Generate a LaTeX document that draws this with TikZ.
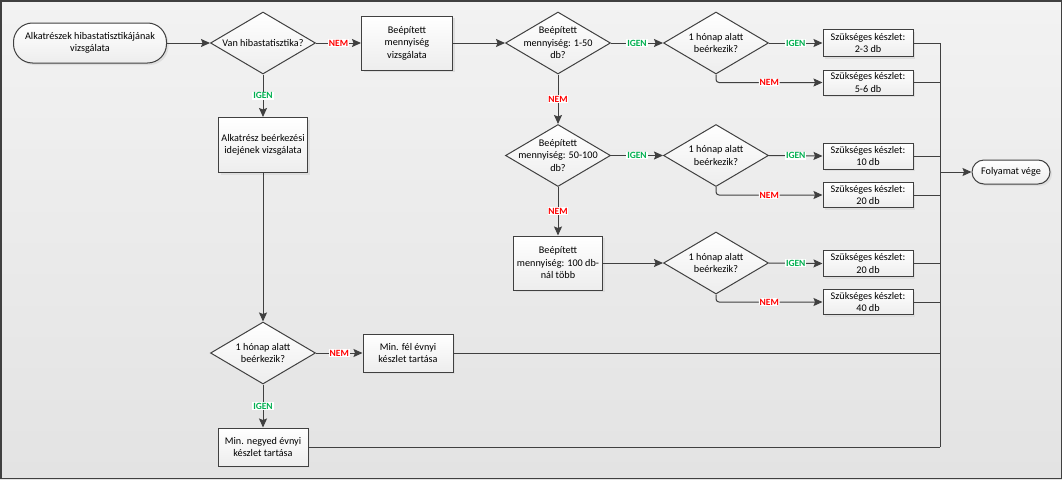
\documentclass[tikz,border=0pt]{standalone}
\usepackage{fontspec}
\setmainfont{Carlito}
\usetikzlibrary{arrows.meta,shapes.geometric,shadows,calc}
\definecolor{ln}{HTML}{404040}
\definecolor{igen}{HTML}{00B050}
\definecolor{nem}{HTML}{FF0000}
\begin{document}
\begin{tikzpicture}[x=1pt,y=-1pt,
  font=\fontsize{10.2}{12.5}\selectfont,
  shad/.style={general shadow={fill=black!13, draw=none, shadow xshift=2pt, shadow yshift=-2pt}},
  boxsty/.style={draw=ln, line width=1pt, top color=white, bottom color=black!7, shad, align=center, inner sep=0pt},
  term/.style={boxsty},
  dia/.style={diamond, draw=ln, line width=1pt, top color=white, bottom color=black!7, minimum width=105pt, minimum height=62pt, inner sep=0pt},
  dtext/.style={align=center, inner sep=0pt},
  con/.style={draw=ln, line width=1pt, -{Stealth[length=9pt,width=8pt,inset=1.5pt]}},
  plain/.style={draw=ln, line width=1pt},
  yes/.style={font=\fontsize{9.5}{10}\selectfont\bfseries, text=igen, fill=white, inner sep=0.8pt},
  no/.style={font=\fontsize{9.5}{10}\selectfont\bfseries, text=nem, fill=white, inner sep=0.8pt},
  rc/.style={rounded corners=3pt}
]
\useasboundingbox (0,0) rectangle (1062,479);
\path[top color=black!5, bottom color=black!11] (0,0) rectangle (1062,479);
\draw[ln, line width=1.5pt] (0.75,0.75) rectangle (1061.25,478.25);

% nodes
\node[term, rounded corners=19pt, minimum width=153pt, minimum height=40pt] (st) at (90,43) {Alkatrészek hibastatisztikájának\\vizsgálata};
\node[dia] (d1) at (263,43) {};
\node[dtext] at (d1) {Van hibastatisztika?};
\node[boxsty, minimum width=91pt, minimum height=54pt] (bv) at (407,43) {Beépített\\mennyiség\\vizsgálata};
\node[boxsty, minimum width=89pt, minimum height=55pt] (alk) at (263,145) {Alkatrész beérkezési\\idejének vizsgálata};

\node[dia] (q1) at (558,43) {};
\node[dtext] at (q1) {Beépített\\mennyiség: 1-50\\db?};
\node[dia] (h1) at (716,43) {};
\node[dtext] at (h1) {1 hónap alatt\\beérkezik?};
\node[boxsty, minimum width=90pt, minimum height=27pt] (s1) at (868,43) {Szükséges készlet:\\2-3 db};
\node[boxsty, minimum width=90pt, minimum height=25pt] (s2) at (868,82.5) {Szükséges készlet:\\5-6 db};

\node[dia] (q2) at (558,155.5) {};
\node[dtext] at (q2) {Beépített\\mennyiség: 50-100\\db?};
\node[dia] (h2) at (716,155.5) {};
\node[dtext] at (h2) {1 hónap alatt\\beérkezik?};
\node[boxsty, minimum width=90pt, minimum height=26pt] (s3) at (868,156) {Szükséges készlet:\\10 db};
\node[boxsty, minimum width=90pt, minimum height=25pt] (s4) at (868,195) {Szükséges készlet:\\20 db};

\node[boxsty, minimum width=89pt, minimum height=54pt] (q3) at (558,263) {Beépített\\mennyiség: 100 db-\\nál több};
\node[dia] (h3) at (716,263) {};
\node[dtext] at (h3) {1 hónap alatt\\beérkezik?};
\node[boxsty, minimum width=90pt, minimum height=26pt] (s5) at (868,263.5) {Szükséges készlet:\\20 db};
\node[boxsty, minimum width=90pt, minimum height=25pt] (s6) at (868,302) {Szükséges készlet:\\40 db};

\node[dia] (d4) at (263,353) {};
\node[dtext] at (d4) {1 hónap alatt\\beérkezik?};
\node[boxsty, minimum width=90pt, minimum height=38pt] (mf) at (408,353) {Min. fél évnyi\\készlet tartása};
\node[boxsty, minimum width=90pt, minimum height=38pt] (mn) at (263,447) {Min. negyed évnyi\\készlet tartása};

\node[term, rounded corners=12pt, minimum width=78pt, minimum height=24pt] (end) at (1011,172) {Folyamat vége};
\coordinate (bus) at (940,172);

% connectors
\draw[con] (st.east) -- (d1.west);
\draw[con] (d1.east) -- node[no]{NEM} (bv.west);
\draw[con] (d1.south) -- node[yes]{IGEN} (alk.north);
\draw[con] (bv.east) -- (q1.west);
\draw[con] (q1.east) -- node[yes]{IGEN} (h1.west);
\draw[con] (h1.east) -- node[yes]{IGEN} (s1.west);
\draw[con, rc] (h1.south) |- node[no, pos=0.75]{NEM} (s2.west);
\draw[con] (q1.south) -- node[no]{NEM} (q2.north);
\draw[con] (q2.east) -- node[yes]{IGEN} (h2.west);
\draw[con] (h2.east) -- node[yes]{IGEN} (s3.west);
\draw[con, rc] (h2.south) |- node[no, pos=0.75]{NEM} (s4.west);
\draw[con] (q2.south) -- node[no]{NEM} (q3.north);
\draw[con] (q3.east) -- (h3.west);
\draw[con] (h3.east) -- node[yes]{IGEN} (s5.west);
\draw[con, rc] (h3.south) |- node[no, pos=0.75]{NEM} (s6.west);
\draw[con] (alk.south) -- (d4.north);
\draw[con] (d4.east) -- node[no]{NEM} (mf.west);
\draw[con] (d4.south) -- node[yes]{IGEN} (mn.north);

% collector
\foreach \n in {s1,s2,s3,s4,s5,s6,mf,mn}{
  \draw[plain] (\n.east) -- (\n.east -| bus);
}
\draw[plain] (s1.east -| bus) -- (mn.east -| bus);
\draw[con] (bus) -- (end.west);
\end{tikzpicture}
\end{document}
